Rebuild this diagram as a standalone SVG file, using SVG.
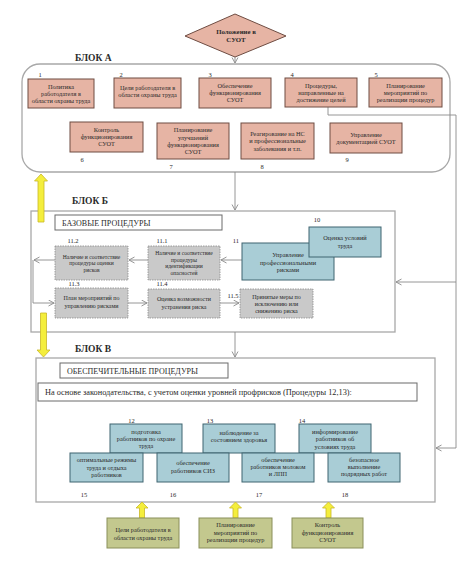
<svg xmlns="http://www.w3.org/2000/svg" width="474" height="566" viewBox="0 0 474 566">
<defs>
<marker id="arr" markerWidth="8" markerHeight="8" refX="6" refY="3.5" orient="auto" markerUnits="userSpaceOnUse">
<path d="M0.5,0.5 L6,3.5 L0.5,6.5" fill="none" stroke="#8a8a8a" stroke-width="0.9"/>
</marker>
<style>
text{font-family:"Liberation Serif","Times New Roman",serif;fill:#2a2a2a}
.t{font-size:6.3px;text-anchor:middle}
.s{font-size:5.6px;text-anchor:middle}
.n{font-size:6.5px;text-anchor:middle}
.lbl{font-size:9.5px;font-weight:bold}
.hdr{font-size:8px}
.blk{fill:none;stroke:#a8a8a8;stroke-width:1.3}
.sal{fill:#e6b4a4;stroke:#6e4c42;stroke-width:1}
.blu{fill:#a9cdd6;stroke:#3f6470;stroke-width:1}
.gry{fill:#c9c9c9;stroke:#8c8c8c;stroke-width:0.8;stroke-dasharray:1.5,1}
.grn{fill:#c3c88e;stroke:#8a8f5a;stroke-width:1}
.con{fill:none;stroke:#8a8a8a;stroke-width:0.9}
.yel{fill:#f4ee3c;stroke:#c9b826;stroke-width:0.8}
.hbox{fill:#fff;stroke:#6a6a6a;stroke-width:1}
</style>
</defs>
<rect width="474" height="566" fill="#fff"/>

<!-- blocks -->
<g id="blockA">
<rect class="blk" x="22" y="64" width="428" height="108" rx="18"/>
<text class="lbl" x="75" y="61">БЛОК А</text>
</g>
<g id="blockB">
<rect class="blk" x="31" y="211" width="364" height="121"/>
<text class="lbl" x="72" y="204">БЛОК Б</text>
<rect class="hbox" x="55" y="215" width="167" height="15"/>
<text class="hdr" x="62" y="226">БАЗОВЫЕ ПРОЦЕДУРЫ</text>
</g>
<g id="blockC">
<rect class="blk" x="36" y="358" width="399" height="144"/>
<text class="lbl" x="75" y="352">БЛОК В</text>
<rect class="hbox" x="60" y="363" width="168" height="15"/>
<text class="hdr" x="67" y="374">ОБЕСПЕЧИТЕЛЬНЫЕ ПРОЦЕДУРЫ</text>
<rect class="hbox" x="38" y="383" width="379" height="18"/>
<text class="hdr" x="45" y="395" style="font-size:8.3px">На основе законодательства, с учетом оценки уровней профрисков (Процедуры 12,13):</text>
</g>

<!-- connectors -->
<g id="connectors">
<line class="con" x1="235" y1="57" x2="235" y2="63" marker-end="url(#arr)"/>
<line class="con" x1="235" y1="172" x2="235" y2="210" marker-end="url(#arr)"/>
<line class="con" x1="235" y1="332" x2="235" y2="357" marker-end="url(#arr)"/>
<polyline class="con" points="328,107 328,115 456,115 456,448 436,448" marker-end="url(#arr)"/>
<line class="con" x1="456" y1="282" x2="396" y2="282" marker-end="url(#arr)"/>
<line class="con" x1="242" y1="260" x2="221" y2="260" marker-end="url(#arr)"/>
<line class="con" x1="148" y1="260" x2="129" y2="260" marker-end="url(#arr)"/>
<line class="con" x1="55" y1="260" x2="34" y2="260" marker-end="url(#arr)"/>
<polyline class="con" points="33,260 33,303 54,303" marker-end="url(#arr)"/>
<line class="con" x1="128" y1="303" x2="147" y2="303" marker-end="url(#arr)"/>
<line class="con" x1="220" y1="303" x2="239" y2="303" marker-end="url(#arr)"/>
<polygon class="yel" points="41,174 47.5,181 44,181 44,222 38,222 38,181 34.5,181"/>
<polygon class="yel" points="43.5,357 50,350 46.5,350 46.5,313 40.5,313 40.5,350 37,350"/>
<polygon class="yel" points="142,502 148,508 144.5,508 144.5,518 139.5,518 139.5,508 136,508"/>
<polygon class="yel" points="235.5,502 241.5,508 238,508 238,518 233,518 233,508 229.5,508"/>
<polygon class="yel" points="328.5,502 334.5,508 331,508 331,518 326,518 326,508 322.5,508"/>
</g>

<!-- diamond -->
<g id="n0">
<polygon points="235,14 286,36 235,57 185,36" fill="#e6b4a4" stroke="#6e4c42" stroke-width="1"/>
<text class="t" x="236" y="34" style="font-weight:bold;font-size:6.8px">Положение в</text>
<text class="t" x="236" y="42" style="font-weight:bold;font-size:6.8px">СУОТ</text>
</g>

<!-- Block A row 1 -->
<g id="n1"><text class="n" x="40" y="77">1</text><rect class="sal" x="28" y="79" width="66" height="29"/>
<text class="t" x="61" y="88.5">Политика</text><text class="t" x="61" y="95.7">работодателя в</text><text class="t" x="61" y="102.9">области охраны труда</text></g>
<g id="n2"><text class="n" x="121" y="77">2</text><rect class="sal" x="114" y="78" width="67" height="30"/>
<text class="t" x="147.5" y="90">Цели работодателя в</text><text class="t" x="147.5" y="97.2">области охраны труда</text></g>
<g id="n3"><text class="n" x="210" y="77">3</text><rect class="sal" x="199" y="78" width="72" height="30"/>
<text class="t" x="235" y="88">Обеспечение</text><text class="t" x="235" y="95.2">функционирования</text><text class="t" x="235" y="102.4">СУОТ</text></g>
<g id="n4"><text class="n" x="292" y="77">4</text><rect class="sal" x="285" y="78" width="72" height="29"/>
<text class="t" x="321" y="87.5">Процедуры,</text><text class="t" x="321" y="94.7">направленные на</text><text class="t" x="321" y="101.9">достижение целей</text></g>
<g id="n5"><text class="n" x="376" y="77">5</text><rect class="sal" x="369" y="78" width="73" height="29"/>
<text class="t" x="405.5" y="87.5">Планирование</text><text class="t" x="405.5" y="94.7">мероприятий по</text><text class="t" x="405.5" y="101.9">реализации процедур</text></g>

<!-- Block A row 2 -->
<g id="n6"><rect class="sal" x="70" y="122" width="73" height="30"/>
<text class="t" x="106.5" y="132">Контроль</text><text class="t" x="106.5" y="139.2">функционирования</text><text class="t" x="106.5" y="146.4">СУОТ</text>
<text class="n" x="82" y="162">6</text></g>
<g id="n7"><rect class="sal" x="157" y="123" width="72" height="36"/>
<text class="t" x="193" y="132.4">Планирование</text><text class="t" x="193" y="139.6">улучшений</text><text class="t" x="193" y="146.8">функционирования</text><text class="t" x="193" y="154">СУОТ</text>
<text class="n" x="171" y="169">7</text></g>
<g id="n8"><rect class="sal" x="241" y="123" width="73" height="36"/>
<text class="t" x="277.5" y="136.2">Реагирование на НС</text><text class="t" x="277.5" y="143.4">и профессиональные</text><text class="t" x="277.5" y="150.6">заболевания и т.п.</text>
<text class="n" x="262" y="169">8</text></g>
<g id="n9"><rect class="sal" x="330" y="123" width="72" height="30"/>
<text class="t" x="366" y="136.6">Управление</text><text class="t" x="366" y="143.8">документацией СУОТ</text>
<text class="n" x="347" y="162">9</text></g>

<!-- Block B -->
<g id="n11_2"><text class="n" x="73" y="243">11.2</text><rect class="gry" x="55" y="246" width="73" height="34"/>
<text class="s" x="91.5" y="258.5">Наличие и соответствие</text><text class="s" x="91.5" y="265">процедуры оценки</text><text class="s" x="91.5" y="271.5">рисков</text></g>
<g id="n11_1"><text class="n" x="162" y="243">11.1</text><rect class="gry" x="148" y="246" width="72" height="34"/>
<text class="s" x="184" y="255.2">Наличие и соответствие</text><text class="s" x="184" y="261.7">процедуры</text><text class="s" x="184" y="268.2">идентификации</text><text class="s" x="184" y="274.7">опасностей</text></g>
<g id="n11"><text class="n" x="236" y="243">11</text><rect class="blu" x="242" y="243" width="92" height="37"/>
<text class="t" x="288" y="257">Управление</text><text class="t" x="288" y="264.5">профессиональными</text><text class="t" x="288" y="272">рисками</text></g>
<g id="n10"><text class="n" x="317" y="222">10</text><rect class="blu" x="309" y="227" width="72" height="30"/>
<text class="t" x="345" y="240">Оценка условий</text><text class="t" x="345" y="248">труда</text></g>
<g id="n11_3"><text class="n" x="74" y="286">11.3</text><rect class="gry" x="55" y="288" width="73" height="30"/>
<text class="s" x="91.5" y="300" style="font-size:6px">План мероприятий по</text><text class="s" x="91.5" y="307.5" style="font-size:6px">управлению рисками</text></g>
<g id="n11_4"><text class="n" x="162" y="286">11.4</text><rect class="gry" x="148" y="289" width="72" height="29"/>
<text class="s" x="184" y="301" style="font-size:6px">Оценка возможности</text><text class="s" x="184" y="309" style="font-size:6px">устранения риска</text></g>
<g id="n11_5"><text class="n" x="233" y="298">11.5</text><rect class="gry" x="240" y="289" width="73" height="29"/>
<text class="s" x="276.5" y="299" style="font-size:6px">Принятые меры по</text><text class="s" x="276.5" y="306" style="font-size:6px">исключению или</text><text class="s" x="276.5" y="313" style="font-size:6px">снижению риска</text></g>

<!-- Block C -->
<g id="n12"><text class="n" x="131.5" y="423">12</text><rect class="blu" x="110" y="424" width="72" height="29"/>
<text class="t" x="146" y="434">подготовка</text><text class="t" x="146" y="441">работников по охране</text><text class="t" x="146" y="448">труда</text></g>
<g id="n13"><text class="n" x="210" y="423">13</text><rect class="blu" x="203" y="424" width="72" height="29"/>
<text class="t" x="239" y="435">наблюдение за</text><text class="t" x="239" y="442">состоянием здоровья</text></g>
<g id="n14"><text class="n" x="302" y="423">14</text><rect class="blu" x="299" y="424" width="72" height="29"/>
<text class="t" x="335" y="434">информирование</text><text class="t" x="335" y="441">работников об</text><text class="t" x="335" y="449">условиях труда</text></g>
<g id="n15"><rect class="blu" x="70" y="453" width="73" height="29"/>
<text class="t" x="106.5" y="462">оптимальные режимы</text><text class="t" x="106.5" y="469.5">труда и отдыха</text><text class="t" x="106.5" y="477">работников</text>
<text class="n" x="84" y="497">15</text></g>
<g id="n16"><rect class="blu" x="157" y="453" width="72" height="29"/>
<text class="t" x="193" y="465">обеспечение</text><text class="t" x="193" y="473">работников СИЗ</text>
<text class="n" x="173" y="497">16</text></g>
<g id="n17"><rect class="blu" x="242" y="453" width="72" height="29"/>
<text class="t" x="278" y="462">обеспечение</text><text class="t" x="278" y="469">работников молоком</text><text class="t" x="278" y="476">и ЛПП</text>
<text class="n" x="259" y="497">17</text></g>
<g id="n18"><rect class="blu" x="328" y="453" width="72" height="29"/>
<text class="t" x="364" y="462">безопасное</text><text class="t" x="364" y="469">выполнение</text><text class="t" x="364" y="476">подрядных работ</text>
<text class="n" x="345" y="497">18</text></g>

<!-- Green boxes -->
<g id="g1"><rect class="grn" x="107" y="518" width="72" height="30"/>
<text class="t" x="143" y="532">Цели работодателя в</text><text class="t" x="143" y="539.5">области охраны труда</text></g>
<g id="g2"><rect class="grn" x="199" y="518" width="73" height="30"/>
<text class="t" x="235.5" y="527">Планирование</text><text class="t" x="235.5" y="534.5">мероприятий по</text><text class="t" x="235.5" y="542">реализации процедур</text></g>
<g id="g3"><rect class="grn" x="292" y="518" width="71" height="30"/>
<text class="t" x="327.5" y="527">Контроль</text><text class="t" x="327.5" y="534.5">функционирования</text><text class="t" x="327.5" y="542">СУОТ</text></g>
</svg>
